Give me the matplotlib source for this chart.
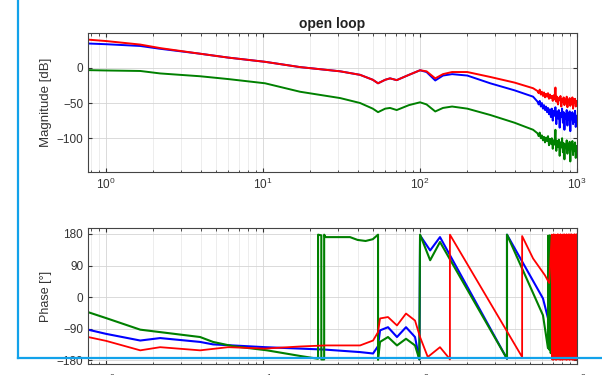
import matplotlib.pyplot as plt
import numpy as np
from matplotlib.lines import Line2D

plt.rcParams['font.family'] = ['Liberation Sans', 'DejaVu Sans']

# ---- magnitude (dB) ----
f_mag = [0.767, 1.0, 1.65, 2.21, 3.97, 6.0, 10.3, 17.2, 31, 41.5, 50, 54, 60,
         64.4, 71, 85, 100, 110, 125, 140, 160, 200, 280, 400, 525]
mag_red = [40, 38, 33, 28, 20, 14.5, 8.5, 1, -5, -10, -17, -22, -17,
           -15, -17.5, -10, -3.5, -5, -15, -9, -6, -6, -13, -21, -29]
mag_blue = [34.5, 33.5, 31, 27, 20, 14.5, 8.5, 1, -5, -10, -17, -22, -17,
            -15, -17.5, -10, -3.5, -6, -18, -11, -9, -11, -22, -32, -41]
mag_green = [-3.3, -3.8, -4.5, -8, -12, -16, -22, -34, -43, -50, -58, -63, -58,
             -57, -60, -53, -49, -52, -62, -57, -55, -58, -67, -78, -88]

# noisy part, 560 Hz .. 1000 Hz
noise_red = [-33, -36, -31, -38, -34, -40, -35, -42, -37, -41, -36, -44, -38, -43,
             -40, -47, -39, -45, -28, -48, -41, -52, -43, -46, -40, -55, -44, -49,
             -42, -53, -45, -50, -41, -56, -46, -48, -43, -54, -47, -51, -42, -58,
             -45, -50, -44, -55, -47, -52]
noise_blue = [-48, -52, -47, -55, -50, -58, -53, -60, -55, -63, -57, -66, -59, -70,
              -58, -75, -61, -68, -56, -80, -62, -72, -60, -85, -64, -70, -58, -78,
              -63, -88, -66, -72, -60, -82, -65, -74, -62, -90, -67, -73, -63, -80,
              -66, -77, -61, -84, -68, -75]
noise_green = [-93, -97, -92, -100, -96, -103, -98, -106, -99, -104, -97, -110, -101,
               -108, -100, -115, -103, -109, -88, -118, -104, -112, -102, -125, -106,
               -113, -100, -120, -107, -130, -109, -114, -103, -122, -108, -116, -105,
               -133, -110, -115, -104, -124, -109, -118, -106, -128, -111, -117]

# ---- phase (deg) ----
f_ph_red = [0.767, 1.0, 1.65, 2.21, 3.97, 6.0, 10.3, 17.2, 25, 41.5, 50.2, 54,
            55.6, 62.5, 71.3, 81.4, 92.9, 100, 112, 134, 151, 155, 155, 447, 447,
            525, 625, 665]
ph_red = [-114, -125, -152, -143, -152, -143, -147, -141, -138, -138, -124, -100,
          -61, -57, -81, -47, -67, -114, -171, -143, -171, -178, 178, -171, 174,
          110, 62, 40]
band_red = [178, -178, 177, -179, 179, -177, 176, -178, 178, -179, 177, -176, 179,
            -178, 178, -177, 176, -179, 179, -178, 177, -178, 178, -179, 176, -177,
            179, -178, 178, -176, 177, -179, 179, -178, 176, -178, 178, -177, 179,
            -179, 177, -178, 178, -176, 179, -178, 177, -179, 178, -177, 176, -178,
            179, -179, 178, -177, 177, -178, 179, -176]

f_ph_blue = [0.767, 1.0, 1.65, 2.21, 3.97, 4.8, 10.3, 17.2, 25, 41.5, 50.2, 54,
             55.6, 62.5, 71.3, 81.4, 92.9, 99, 100, 116, 134, 358, 358, 607, 653,
             700]
ph_blue = [-93, -105, -124, -117, -128, -135, -143, -147, -150, -157, -161, -140,
           -95, -86, -114, -86, -114, -178, 176, 133, 171, -176, 178, -4, -60, -120]

f_ph_green = [0.767, 1.0, 1.65, 2.21, 3.97, 4.8, 6.4, 10.6, 17.2, 22.4, 22.4, 23.5,
              23.5, 24.5, 24.5, 25, 35.8, 40, 45, 50, 54, 54, 55.6, 62.5, 71.3,
              81.4, 92.9, 99, 100, 116, 134, 358, 358, 607, 653, 655, 665, 670,
              680, 690]
ph_green = [-43, -60, -93, -100, -114, -128, -140, -152, -168, -176, 178, 176,
            -178, -178, 178, 171, 171, 163, 160, 165, 178, -179, -128, -114, -138,
            -119, -138, -178, 178, 105, 157, -176, 178, -52, -146, 175, -150, 176,
            -160, 170]

red = '#ff0000'
blue = '#0000ff'
green = '#008000'

fig = plt.figure(figsize=(6.02, 3.75), dpi=100)
ax1 = fig.add_axes([0.1462, 0.5413, 0.8123, 0.3699])
ax2 = fig.add_axes([0.1462, 0.0293, 0.8123, 0.3627])

f_noise = np.linspace(560, 1000, len(noise_red))
ax1.plot(list(f_mag) + list(f_noise), mag_blue + noise_blue, color=blue, lw=1.4)
ax1.plot(list(f_mag) + list(f_noise), mag_green + noise_green, color=green, lw=1.4)
ax1.plot(list(f_mag) + list(f_noise), mag_red + noise_red, color=red, lw=1.4)

f_band = np.linspace(690, 1000, len(band_red))
ax2.plot(f_ph_blue, ph_blue, color=blue, lw=1.5)
ax2.plot(f_ph_green, ph_green, color=green, lw=1.5)
ax2.plot(list(f_ph_red) + list(f_band), ph_red + band_red, color=red, lw=1.3)

for ax in (ax1, ax2):
    ax.set_xscale('log')
    ax.set_xlim(0.767, 1000)
    ax.grid(True, which='major', color='#d4d4d4', lw=0.6)
    ax.grid(True, which='minor', axis='x', color='#e6e6e6', lw=0.5)
    ax.set_axisbelow(True)
    ax.tick_params(which='both', direction='in', top=True, right=True,
                   labelsize=8.5, colors='#333333', length=3)
    ax.tick_params(which='minor', length=1.8)
    for s in ax.spines.values():
        s.set_color('#444444')
        s.set_linewidth(0.8)

ax1.set_ylim(-148, 49)
ax1.set_yticks([-100, -50, 0])
ax1.set_ylabel('Magnitude [dB]', fontsize=9.5, color='#333333', labelpad=3)
ax1.set_title('open loop', fontsize=10, fontweight='bold', color='#222222', pad=4)

ax2.set_ylim(-191, 197)
ax2.set_yticks([-180, -90, 0, 90, 180])
ax2.set_ylabel('Phase [°]', fontsize=9, color='#333333', labelpad=3)
ax2.tick_params(axis='x', pad=6)

# blue frame of the screenshot
cyan = '#12a2ea'
fig.add_artist(Line2D([18 / 602, 18 / 602], [1, 1 - 358 / 375],
                      transform=fig.transFigure, color=cyan, lw=1.6, zorder=10))
fig.add_artist(Line2D([18 / 602, 1], [1 - 358 / 375, 1 - 358 / 375],
                      transform=fig.transFigure, color=cyan, lw=1.6, zorder=10))

fig.savefig('out.png', dpi=100)
